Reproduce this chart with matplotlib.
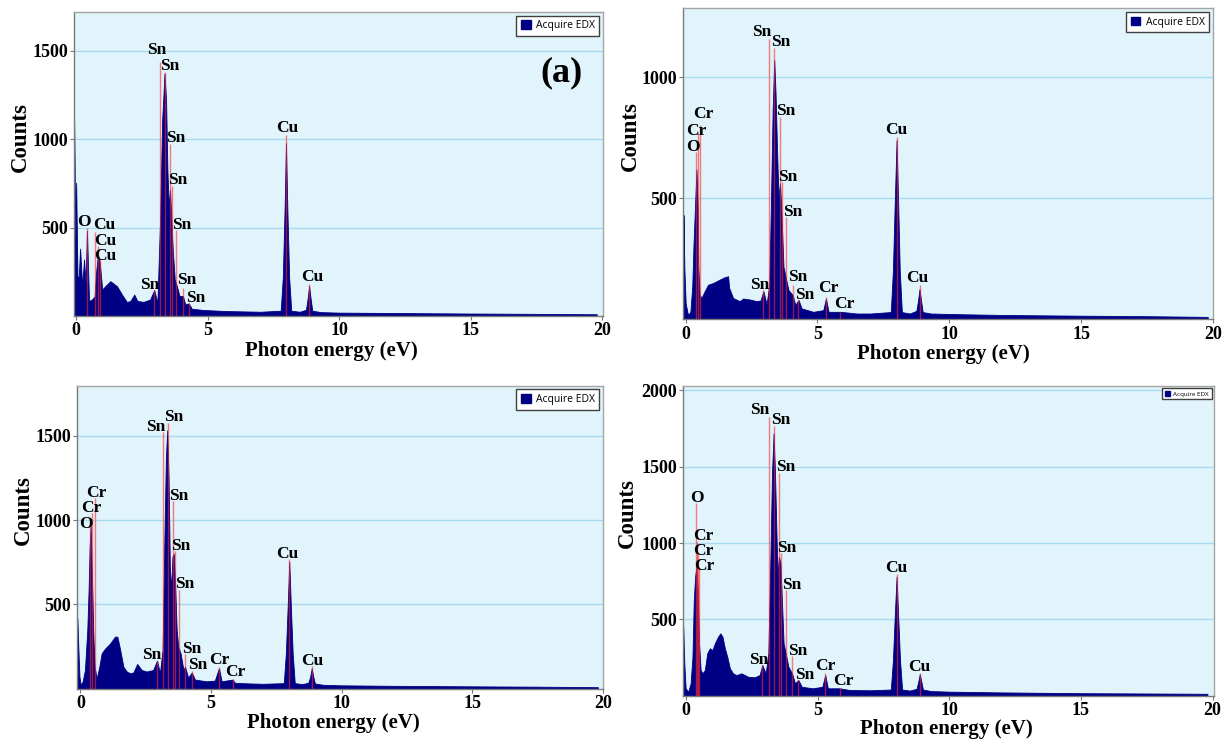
import matplotlib
matplotlib.use('Agg')
from matplotlib import pyplot as plt
from matplotlib.patches import Patch

# ---- spectrum (a) ----
energy_a = [-0.08, -0.06, -0.03, 0.0, 0.05, 0.1, 0.15, 0.23, 0.3, 0.36, 0.41, 0.49, 0.6, 0.7,
            0.76, 0.83, 0.9, 0.99, 1.15, 1.3, 1.55, 1.74, 1.93, 2.06, 2.21, 2.33, 2.56, 2.81,
            2.97, 3.09, 3.19, 3.27, 3.36, 3.42, 3.47, 3.52, 3.57, 3.62, 3.68, 3.75, 3.83,
            3.93, 4.06, 4.15, 4.28, 4.4, 4.84, 5.7, 7.0, 7.78, 7.86, 7.93, 7.98, 8.03, 8.1,
            8.18, 8.5, 8.74, 8.8, 8.86, 8.92, 8.98, 9.3, 10.0, 12.0, 15.0, 17.5, 19.8]
counts_a = [1136, 900, 420, 753, 225, 220, 381, 169, 320, 183, 482, 85, 93, 110,
            250, 348, 300, 150, 175, 197, 169, 122, 79, 85, 121, 85, 80, 93,
            147, 75, 536, 1100, 1372, 1222, 827, 620, 714, 545, 357, 207, 169,
            113, 113, 66, 71, 41, 34, 28, 24, 30, 220, 620, 978, 620, 220,
            30, 24, 35, 95, 170, 95, 30, 22, 19, 17, 14, 12, 10]
lines_a_energy = [0.41, 0.71, 0.82, 0.90, 2.97, 3.17, 3.37, 3.56, 3.65, 3.81, 4.06, 4.28, 7.98, 8.86]
lines_a_height = [498, 476, 395, 320, 147, 1437, 1378, 972, 733, 489, 158, 75, 1024, 179]
lines_a_label = ['O', 'Cu', 'Cu', 'Cu', 'Sn', 'Sn', 'Sn', 'Sn', 'Sn', 'Sn', 'Sn', 'Sn', 'Cu', 'Cu']

# ---- spectrum (b) ----
energy_b = [-0.08, -0.05, 0.0, 0.09, 0.18, 0.25, 0.3, 0.35, 0.41, 0.46, 0.48, 0.53, 0.6, 0.72,
            0.85, 1.04, 1.29, 1.48, 1.61, 1.65, 1.8, 2.05, 2.18, 2.43, 2.69, 2.84, 2.95,
            3.07, 3.17, 3.23, 3.3, 3.36, 3.41, 3.46, 3.52, 3.58, 3.63, 3.71, 3.79, 3.9,
            4.06, 4.16, 4.28, 4.4, 4.84, 5.22, 5.32, 5.42, 5.87, 6.5, 7.0, 7.78, 7.86, 7.93,
            8.0, 8.06, 8.12, 8.2, 8.5, 8.75, 8.81, 8.87, 8.93, 8.99, 9.3, 10.0, 12.0, 15.0,
            17.5, 19.8]
counts_b = [431, 217, 66, 18, 31, 135, 314, 452, 620, 452, 217, 102, 88, 116,
            143, 150, 164, 174, 178, 130, 88, 75, 86, 82, 75, 78, 116,
            62, 143, 452, 866, 1071, 933, 727, 507, 562, 452, 217, 176, 121,
            100, 59, 80, 45, 31, 38, 86, 31, 31, 24, 24, 30, 200, 480,
            741, 480, 200, 30, 24, 35, 75, 125, 75, 30, 24, 22, 18, 15,
            13, 10]
lines_b_energy = [0.41, 0.48, 0.56, 2.95, 3.17, 3.36, 3.56, 3.65, 3.80, 4.06, 4.28, 5.32, 5.87, 8.0, 8.87]
lines_b_height = [692, 768, 803, 121, 1157, 1120, 835, 569, 424, 142, 80, 91, 31, 755, 142]
lines_b_label = ['O', 'Cr', 'Cr', 'Sn', 'Sn', 'Sn', 'Sn', 'Sn', 'Sn', 'Sn', 'Sn', 'Cr', 'Cr', 'Cu', 'Cu']

# ---- spectrum (c) ----
energy_c = [-0.12, -0.08, -0.04, 0.01, 0.08, 0.17, 0.26, 0.31, 0.35, 0.39, 0.44, 0.49, 0.54,
            0.62, 0.72, 0.81, 0.94, 1.13, 1.32, 1.41, 1.51, 1.64, 1.77, 1.89, 2.02, 2.17,
            2.34, 2.53, 2.78, 2.93, 3.04, 3.14, 3.21, 3.27, 3.32, 3.37, 3.42, 3.47, 3.52,
            3.57, 3.63, 3.68, 3.74, 3.83, 3.94, 4.0, 4.12, 4.26, 4.38, 4.82, 5.14, 5.3,
            5.4, 5.82, 5.91, 6.5, 7.0, 7.78, 7.86, 7.93, 7.99, 8.05, 8.12, 8.2, 8.5, 8.72,
            8.79, 8.85, 8.91, 8.97, 9.3, 10.0, 12.0, 15.0, 17.5, 19.8]
counts_c = [417, 229, 71, 21, 41, 110, 348, 585, 842, 961, 664, 326, 130,
            59, 130, 209, 237, 267, 308, 308, 237, 130, 101, 91, 95, 146,
            110, 101, 110, 166, 91, 229, 881, 1375, 1534, 1257, 723, 585, 782,
            800, 585, 348, 249, 209, 110, 130, 65, 95, 53, 43, 47, 121,
            43, 53, 34, 30, 28, 32, 210, 490, 753, 490, 210, 32, 26, 35,
            70, 120, 70, 30, 22, 19, 16, 13, 11, 8]
lines_c_energy = [0.38, 0.45, 0.54, 2.93, 3.16, 3.33, 3.54, 3.63, 3.78, 4.0, 4.26, 5.30, 5.82, 7.99, 8.85]
lines_c_height = [970, 1040, 1132, 166, 1524, 1573, 1115, 818, 585, 203, 104, 130, 55, 767, 134]
lines_c_label = ['O', 'Cr', 'Cr', 'Sn', 'Sn', 'Sn', 'Sn', 'Sn', 'Sn', 'Sn', 'Sn', 'Cr', 'Cr', 'Cu', 'Cu']

# ---- spectrum (d) ----
energy_d = [-0.1, -0.06, -0.01, 0.09, 0.18, 0.25, 0.3, 0.35, 0.4, 0.45, 0.5, 0.56, 0.63, 0.72,
            0.81, 0.91, 1.01, 1.1, 1.22, 1.31, 1.39, 1.48, 1.57, 1.67, 1.79, 1.92, 2.11,
            2.36, 2.61, 2.8, 2.9, 3.03, 3.13, 3.21, 3.27, 3.33, 3.38, 3.43, 3.48, 3.53,
            3.59, 3.64, 3.71, 3.79, 3.89, 4.03, 4.14, 4.27, 4.4, 4.82, 5.18, 5.29, 5.39,
            5.84, 6.21, 7.0, 7.78, 7.86, 7.93, 8.0, 8.06, 8.13, 8.21, 8.5, 8.76, 8.82,
            8.88, 8.94, 9.0, 9.3, 10.0, 12.0, 15.0, 17.5, 19.8]
counts_d = [452, 212, 48, 26, 81, 255, 626, 780, 845, 692, 343, 168, 146, 168,
            277, 310, 299, 343, 386, 408, 386, 310, 255, 179, 146, 135, 146,
            124, 120, 135, 201, 146, 277, 911, 1457, 1719, 1478, 1129, 780, 911,
            867, 649, 343, 277, 190, 146, 81, 102, 58, 48, 58, 135, 48,
            48, 37, 35, 40, 230, 520, 780, 520, 230, 40, 33, 45, 90,
            140, 90, 40, 30, 26, 21, 16, 14, 12]
lines_d_energy = [0.38, 0.42, 0.45, 0.50, 2.90, 3.16, 3.34, 3.55, 3.63, 3.79, 4.03, 4.27, 5.29, 5.84, 8.0, 8.88]
lines_d_height = [1264, 1009, 921, 834, 200, 1828, 1767, 1457, 937, 692, 260, 102, 146, 52, 797, 146]
lines_d_label = ['O', 'Cr', 'Cr', 'Cr', 'Sn', 'Sn', 'Sn', 'Sn', 'Sn', 'Sn', 'Sn', 'Sn', 'Cr', 'Cr', 'Cu', 'Cu']

yticks_a = [500, 1000, 1500]
yticks_b = [500, 1000]
yticks_c = [500, 1000, 1500]
yticks_d = [500, 1000, 1500, 2000]
xticks = [0, 5, 10, 15, 20]

# label offsets from the top of each marker line, in pixels (dx, dy)
offs_a = [(-3, 2), (9, 3), (8, 1), (5, -1), (-5, 1), (-3, 8), (5, 2), (6, 2), (6, 2), (5, 1),
          (4, 4), (7, 1), (1, 3), (3, 3)]
offs_b = [(-4, 1), (-2, -2), (3, 7), (-4, 1), (-8, 3), (6, 2), (6, 2), (6, 1), (7, 1), (5, 4),
          (6, 1), (2, 5), (4, 4), (0, 3), (-2, 3)]
offs_c = [(-4, -3), (-1, 1), (2, 1), (-5, 2), (-7, 1), (6, 2), (6, 1), (5, 1), (5, 2), (7, 1),
          (6, 2), (0, 3), (3, 3), (-2, 1), (1, 1)]
offs_d = [(1, 1), (6, 2), (6, 0), (5, -2), (-4, 1), (-9, 3), (7, 2), (6, 2), (5, 1), (6, 1),
          (6, 1), (6, 1), (0, 3), (4, 3), (0, 2), (-1, 2)]

NAVY = '#000085'
BG = '#e1f3fb'
GRID = '#a6dcf0'

plt.rcParams['font.family'] = 'Liberation Serif'
plt.rcParams['font.weight'] = 'bold'


def draw_panel(ax, energy, counts, l_en, l_h, l_lab, offs, yticks, xlim, ylim, legend_size):
    ax.set_facecolor(BG)
    ax.fill_between(energy, counts, 0, color=NAVY, lw=0.6, edgecolor=NAVY, zorder=2)
    ax.vlines(l_en, 0, l_h, color='#ff2a2a', alpha=0.6, lw=1.0, zorder=3)
    for x, h, lab, (dx, dy) in zip(l_en, l_h, l_lab, offs):
        ax.annotate(lab, (x, h), xytext=(dx, dy), textcoords='offset pixels',
                    ha='center', va='baseline', fontsize=12.5, fontweight='bold', zorder=4)
    ax.set_xlim(*xlim)
    ax.set_ylim(*ylim)
    ax.set_xticks(xticks)
    ax.set_yticks(yticks)
    ax.grid(axis='y', color=GRID, lw=1.0, zorder=1)
    ax.set_axisbelow(True)
    ax.tick_params(labelsize=13, length=3, width=0.8, color='#777777', pad=1.5)
    ax.spines[['left', 'bottom']].set_color('#7a7a7a')
    ax.spines[['top', 'right']].set_color('#a5a5a5')
    for s in ax.spines.values():
        s.set_linewidth(1.0)
    ax.set_xlabel('Photon energy (eV)', fontsize=15, fontweight='bold')
    ax.set_ylabel('Counts', fontsize=16.5, fontweight='bold')
    leg = ax.legend(handles=[Patch(facecolor=NAVY, edgecolor=NAVY, label='Acquire EDX')],
                    loc='upper right',
                    prop={'family': 'Open Sans', 'size': legend_size, 'weight': 'normal'},
                    fancybox=False, framealpha=1, edgecolor='#404040', borderaxespad=0.35,
                    handlelength=0.9, handleheight=0.9, handletextpad=0.5, borderpad=0.45)
    leg.get_frame().set_linewidth(1.0)


fig = plt.figure(figsize=(12.26, 7.39), dpi=100)

ax_a = fig.add_axes([0.0604, 0.5724, 0.4315, 0.4114])
draw_panel(ax_a, energy_a, counts_a, lines_a_energy, lines_a_height, lines_a_label, offs_a,
           yticks_a, (-0.08, 20.04), (0, 1719), 7.5)
ax_a.text(0.922, 0.80, '(a)', transform=ax_a.transAxes, ha='center', va='center',
          fontsize=26, fontweight='bold')

ax_b = fig.add_axes([0.5571, 0.5679, 0.4323, 0.4208])
draw_panel(ax_b, energy_b, counts_b, lines_b_energy, lines_b_height, lines_b_label, offs_b,
           yticks_b, (-0.1, 20.0), (0, 1285), 7.5)

ax_c = fig.add_axes([0.0631, 0.0683, 0.4288, 0.4097])
draw_panel(ax_c, energy_c, counts_c, lines_c_energy, lines_c_height, lines_c_label, offs_c,
           yticks_c, (-0.12, 20.0), (0, 1797), 7.5)

ax_d = fig.add_axes([0.5573, 0.0587, 0.4329, 0.4193])
draw_panel(ax_d, energy_d, counts_d, lines_d_energy, lines_d_height, lines_d_label, offs_d,
           yticks_d, (-0.1, 20.05), (0, 2031), 4.5)

# axis label placement
for ax, xl, yl in [(ax_a, (0.486, -0.115), (-0.102, 0.59)),
                   (ax_b, (0.492, -0.110), (-0.099, 0.59)),
                   (ax_c, (0.487, -0.115), (-0.103, 0.59)),
                   (ax_d, (0.495, -0.107), (-0.106, 0.59))]:
    ax.xaxis.set_label_coords(*xl)
    ax.yaxis.set_label_coords(*yl)
    ax.xaxis.label.set_va('center')
    ax.yaxis.label.set_va('center')

fig.savefig('out.png', dpi=100)
